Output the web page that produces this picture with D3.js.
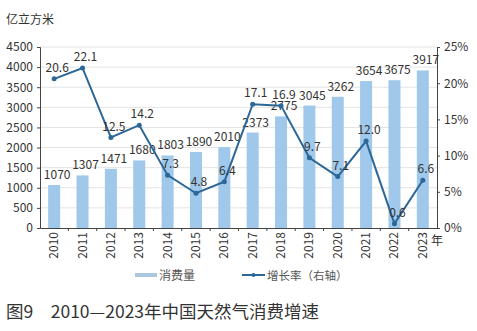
<!DOCTYPE html>
<html><head><meta charset="utf-8">
<script src="https://cdn.jsdelivr.net/npm/d3@7"></script>
<style>body{margin:0;background:#fff}svg{display:block}text{font-family:"Noto Sans CJK SC","Noto Sans",sans-serif}</style>
</head><body><svg id="c" width="477" height="331"></svg>
<script>
const years = ["2010","2011","2012","2013","2014","2015","2016","2017","2018","2019","2020","2021","2022","2023"];
const consumption = [1070,1307,1471,1680,1803,1890,2010,2373,2775,3045,3262,3654,3675,3917];
const growth = [20.6,22.1,12.5,14.2,7.3,4.8,6.4,17.1,16.9,9.7,7.1,12.0,0.6,6.6];
const leftTicks = [0,500,1000,1500,2000,2500,3000,3500,4000,4500];
const rightTicks = [0,5,10,15,20,25];

const svg = d3.select("#c");
const L = 40, R = 437, T = 47, B = 228;
const x = d3.scaleBand().domain(years).range([L, R]);
const y = d3.scaleLinear().domain([0, 4500]).range([B, T]);
const y2 = d3.scaleLinear().domain([0, 25]).range([B, T]);
const txt = "#333";

// gridlines
svg.append("g").selectAll("line").data(leftTicks.slice(1)).join("line")
  .attr("x1", L).attr("x2", R).attr("y1", d => y(d)).attr("y2", d => y(d))
  .attr("stroke", "#e3e3e3").attr("stroke-width", 1);

// bars
const bw = 12;
svg.append("g").selectAll("rect").data(consumption).join("rect")
  .attr("x", (d, i) => x(years[i]) + x.bandwidth()/2 - bw/2)
  .attr("width", bw).attr("y", d => y(d)).attr("height", d => B - y(d))
  .attr("fill", "#9fc8ea");

// axes
const ax = svg.append("g").attr("transform", `translate(${L},0)`)
  .call(d3.axisLeft(y).tickValues(leftTicks).tickSize(3).tickPadding(4).tickFormat(d3.format("d")));
const ax2 = svg.append("g").attr("transform", `translate(${R},0)`)
  .call(d3.axisRight(y2).tickValues(rightTicks).tickSize(3).tickPadding(4).tickFormat(d => d + "%"));
const axb = svg.append("g").attr("transform", `translate(0,${B})`)
  .call(d3.axisBottom(x).tickSize(0).tickFormat(""));
[ax, ax2, axb].forEach(g => {
  g.select(".domain").attr("stroke", "#444");
  g.selectAll(".tick line").attr("stroke", "#444");
  g.selectAll(".tick text").attr("fill", txt).style("font-size", "12px")
    .style("font-family", '"Noto Sans CJK SC","Noto Sans",sans-serif');
});
// category boundary ticks
svg.append("g").selectAll("line").data(years.slice(1)).join("line")
  .attr("x1", d => x(d)).attr("x2", d => x(d)).attr("y1", B).attr("y2", B + 3)
  .attr("stroke", "#444");
// rotated year labels
svg.append("g").selectAll("text").data(years).join("text")
  .attr("transform", d => `translate(${x(d) + x.bandwidth()/2 + 4},${B + 4}) rotate(-90)`)
  .attr("text-anchor", "end").attr("fill", txt).style("font-size", "12px").text(d => d);
svg.append("text").attr("x", 431).attr("y", 245).attr("fill", txt).style("font-size", "12px").text("年");

// bar labels
svg.append("g").selectAll("text").data(consumption).join("text")
  .attr("x", (d, i) => x(years[i]) + x.bandwidth()/2 + 3).attr("y", d => y(d) - 6)
  .attr("text-anchor", "middle").attr("fill", txt).style("font-size", "12px").text(d => d);

// line
const cx = i => x(years[i]) + x.bandwidth()/2;
svg.append("path").datum(growth)
  .attr("d", d3.line().x((d, i) => cx(i)).y(d => y2(d)))
  .attr("fill", "none").attr("stroke", "#2c6797").attr("stroke-width", 2);
svg.append("g").selectAll("circle").data(growth).join("circle")
  .attr("cx", (d, i) => cx(i)).attr("cy", d => y2(d)).attr("r", 2.5).attr("fill", "#2c6797");
svg.append("g").selectAll("text").data(growth).join("text")
  .attr("x", (d, i) => cx(i) + 3).attr("y", d => y2(d) - 7)
  .attr("text-anchor", "middle").attr("fill", txt).style("font-size", "12px").text(d => d.toFixed(1));

// y title
svg.append("text").attr("x", 6).attr("y", 24).attr("fill", txt).style("font-size", "12px").text("亿立方米");

// legend
svg.append("rect").attr("x", 135).attr("y", 273).attr("width", 22).attr("height", 4).attr("fill", "#a9c8e0");
svg.append("text").attr("x", 159).attr("y", 280).attr("fill", "#555").style("font-size", "12px").text("消费量");
svg.append("line").attr("x1", 242).attr("x2", 265).attr("y1", 275).attr("y2", 275).attr("stroke", "#2c6797").attr("stroke-width", 2);
svg.append("circle").attr("cx", 253.5).attr("cy", 275).attr("r", 2).attr("fill", "#2c6797");
svg.append("text").attr("x", 267).attr("y", 280).attr("fill", "#555").style("font-size", "11.5px").text("增长率（右轴）");

// title
svg.append("text").attr("x", 6).attr("y", 318).attr("fill", "#333").style("font-size", "17.5px")
  .text("图9　2010—2023年中国天然气消费增速");
</script></body></html>
